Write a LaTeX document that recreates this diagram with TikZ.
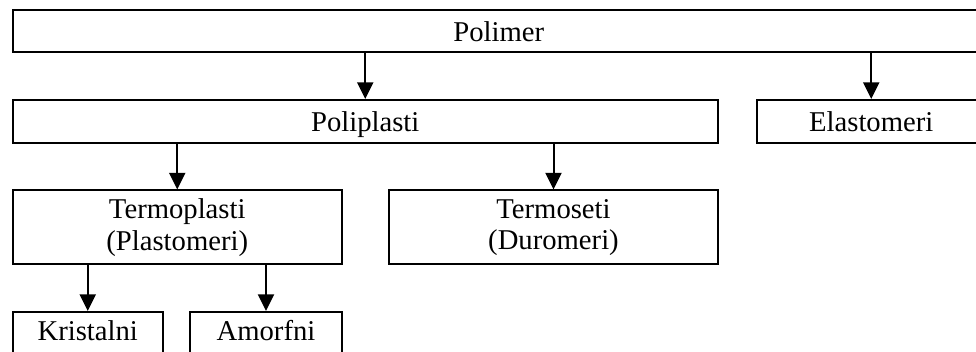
\documentclass[tikz,border=0pt]{standalone}
\usepackage{fontspec}
\setmainfont{Liberation Serif}
\usetikzlibrary{arrows.meta}
\begin{document}
\begin{tikzpicture}[x=0.75pt, y=-0.75pt,
  box/.style={draw, line width=1.5pt, rectangle, inner sep=0pt,
    font=\fontsize{21.5pt}{21pt}\selectfont},
  single/.style={box, text height=15.5pt, text depth=0pt},
  leaf/.style={box, text height=15.5pt, text depth=5.4pt},
  double/.style={box, align=center},
  arr/.style={line width=1.5pt, -{Triangle[length=12.5pt, width=12pt]}}]
\useasboundingbox (0,0) rectangle (976,352);
\node[single, minimum width=972.5*0.75pt, minimum height=42*0.75pt] (polimer) at (498.75,31.5){Polimer};
\node[single, minimum width=705.5*0.75pt, minimum height=43*0.75pt] (poliplasti) at (365.25,121.5){Poliplasti};
\node[single, minimum width=229.5*0.75pt, minimum height=43*0.75pt] (elastomeri) at (871.25,121.5){Elastomeri};
\draw[arr] (polimer.south -| poliplasti) -- (poliplasti.north);
\draw[arr] (polimer.south -| elastomeri) -- (elastomeri.north);
\node[double, minimum width=329.5*0.75pt, minimum height=74*0.75pt] (termoplasti) at (177.25,227.5){Termoplasti\\[2.5pt](Plastomeri)};
\node[double, minimum width=329*0.75pt, minimum height=74*0.75pt] (termoseti) at (553.5,227.5){Termoseti\\[2.5pt](Duromeri)};
\draw[arr] (poliplasti.south -| termoplasti) -- (termoplasti.north);
\draw[arr] (poliplasti.south -| termoseti) -- (termoseti.north);
\node[leaf, minimum width=150.5*0.75pt, minimum height=44*0.75pt] (kristalni) at (87.75,334){Kristalni};
\node[leaf, minimum width=152*0.75pt, minimum height=44*0.75pt] (amorfni) at (266,334){Amorfni};
\draw[arr] (termoplasti.south -| kristalni) -- (kristalni.north);
\draw[arr] (termoplasti.south -| amorfni) -- (amorfni.north);
\end{tikzpicture}
\end{document}
